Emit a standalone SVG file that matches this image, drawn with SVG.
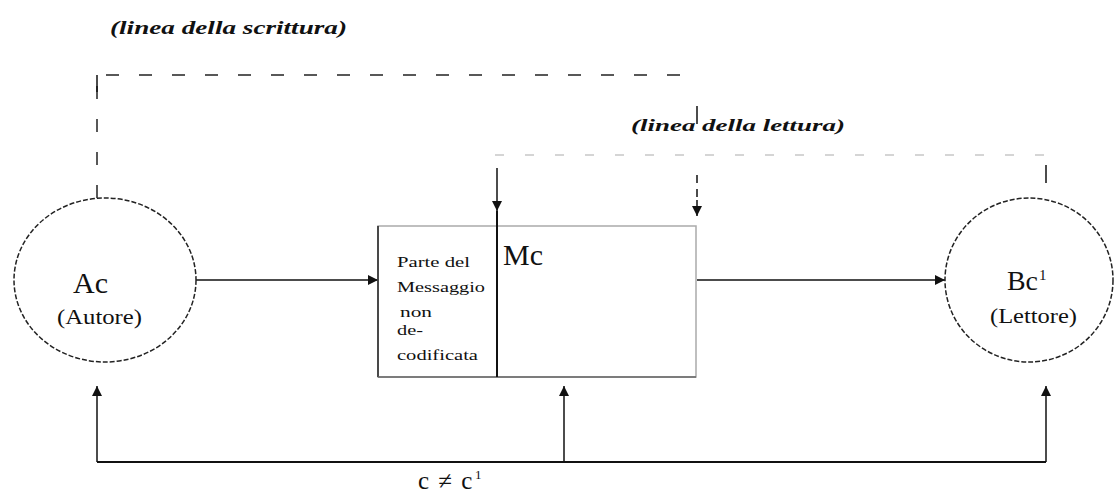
<svg xmlns="http://www.w3.org/2000/svg" width="1119" height="497" viewBox="0 0 1119 497">
<style>
.serif{font-family:"Liberation Serif","Times New Roman",serif;fill:#111}
.it{font-style:italic;font-weight:bold}
.node{fill:none;stroke:#222;stroke-width:1.5;stroke-dasharray:5 2}
.ln{stroke:#111;stroke-width:1.5;fill:none}
.dash{stroke:#222;stroke-width:1.5;fill:none;stroke-dasharray:13 20}
.light{stroke:#c8c8c8;stroke-width:1.5;fill:none;stroke-dasharray:9 21}
</style>
<defs>
<marker id="ah" viewBox="0 0 10 10" refX="10" refY="5" markerWidth="10" markerHeight="10" markerUnits="userSpaceOnUse" orient="auto">
<path d="M0,0 L10,5 L0,10 z" fill="#111"/>
</marker>
</defs>
<rect width="1119" height="497" fill="#fff"/>

<g id="connectors">
<path class="dash" d="M97,198 L97,75 L683,75"/>
<line class="ln" x1="97" y1="75" x2="97" y2="92"/>
<line class="ln" x1="697" y1="106" x2="697" y2="124"/>
<line class="ln" x1="697" y1="175" x2="697" y2="198" stroke-dasharray="8 6"/>
<line class="ln" x1="697" y1="200" x2="697" y2="216" marker-end="url(#ah)"/>
<line class="light" x1="495" y1="155" x2="1046" y2="155"/>
<line class="ln" x1="1046" y1="165" x2="1046" y2="183"/>
<line class="ln" x1="497" y1="168" x2="497" y2="211" marker-end="url(#ah)"/>
<line class="ln" x1="196" y1="280" x2="378" y2="280" marker-end="url(#ah)"/>
<line class="ln" x1="697" y1="280" x2="945" y2="280" marker-end="url(#ah)"/>
<line x1="97" y1="462" x2="1046" y2="462" stroke="#111" stroke-width="2.2"/>
<line class="ln" x1="97" y1="462" x2="97" y2="386" marker-end="url(#ah)"/>
<line class="ln" x1="564" y1="462" x2="564" y2="386" marker-end="url(#ah)"/>
<line class="ln" x1="1046" y1="462" x2="1046" y2="386" marker-end="url(#ah)"/>
</g>

<g id="label-scrittura">
<text class="serif it" x="110" y="34" font-size="19" textLength="237" lengthAdjust="spacingAndGlyphs">(linea della scrittura)</text>
</g>
<g id="label-lettura">
<text class="serif it" x="631" y="131" font-size="17" textLength="214" lengthAdjust="spacingAndGlyphs">(linea della lettura)</text>
</g>

<g id="node-ac">
<ellipse class="node" cx="105" cy="280" rx="91" ry="82"/>
<text class="serif" x="73" y="293" font-size="29" textLength="35" lengthAdjust="spacingAndGlyphs">Ac</text>
<text class="serif" x="57" y="324" font-size="20" textLength="85" lengthAdjust="spacingAndGlyphs">(Autore)</text>
</g>

<g id="node-mc">
<rect x="378" y="226" width="318" height="151" fill="none" stroke="#aaa" stroke-width="1.5"/>
<line x1="378" y1="226" x2="378" y2="377" stroke="#222" stroke-width="1.5"/>
<line x1="378" y1="377" x2="696" y2="377" stroke="#666" stroke-width="1.5"/>
<line x1="497" y1="211" x2="497" y2="377" stroke="#111" stroke-width="2"/>
<text class="serif" x="397" y="267" font-size="15" textLength="73" lengthAdjust="spacingAndGlyphs">Parte del</text>
<text class="serif" x="397" y="292" font-size="15" textLength="88" lengthAdjust="spacingAndGlyphs">Messaggio</text>
<text class="serif" x="400" y="317" font-size="15" textLength="32" lengthAdjust="spacingAndGlyphs">non</text>
<text class="serif" x="397" y="335" font-size="15" textLength="26" lengthAdjust="spacingAndGlyphs">de-</text>
<text class="serif" x="397" y="360" font-size="15" textLength="81" lengthAdjust="spacingAndGlyphs">codificata</text>
<text class="serif" x="503" y="265" font-size="29" textLength="40" lengthAdjust="spacingAndGlyphs">Mc</text>
</g>

<g id="node-bc">
<ellipse class="node" cx="1029" cy="280" rx="84" ry="82"/>
<text class="serif" x="1007" y="290" font-size="28" textLength="31" lengthAdjust="spacingAndGlyphs">Bc</text>
<text class="serif" x="1039" y="280" font-size="15">1</text>
<text class="serif" x="990" y="323" font-size="20" textLength="87" lengthAdjust="spacingAndGlyphs">(Lettore)</text>
</g>

<g id="label-c">
<text class="serif" x="418" y="489" font-size="25" letter-spacing="1.5">c ≠ c</text>
<text class="serif" x="475" y="479" font-size="13">1</text>
</g>
</svg>
